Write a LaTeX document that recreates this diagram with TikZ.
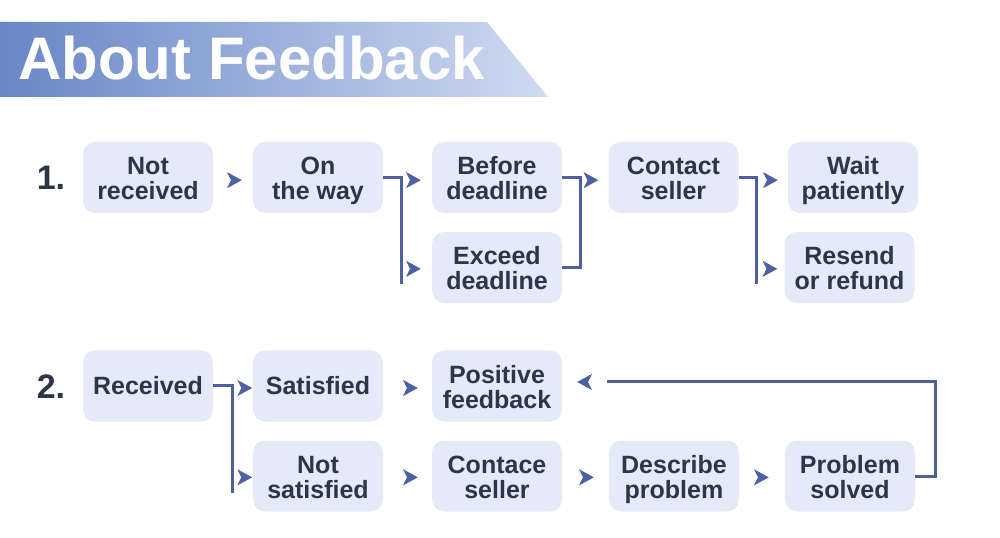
\documentclass[tikz,border=0pt]{standalone}
\usepackage{fontspec}
\setmainfont{Liberation Sans}
\usetikzlibrary{arrows.meta,calc}
\definecolor{boxfill}{RGB}{228,234,248}
\definecolor{txt}{RGB}{44,54,72}
\definecolor{conn}{RGB}{76,96,162}
\definecolor{gl}{RGB}{104,134,198}
\definecolor{gr}{RGB}{208,218,241}
\begin{document}
\begin{tikzpicture}[x=0.75pt,y=-0.75pt,
 box/.style={fill=boxfill, rounded corners=9pt, minimum width=97.5pt, minimum height=53.25pt, inner sep=0pt, align=center, text=txt, font=\fontsize{18.75}{18.75}\selectfont\bfseries,
   text height=37.7pt, text depth=4pt},
 boxone/.style={box, text height=16pt},
 linkline/.style={draw=conn, line width=2.25pt},
 headonly/.style={tips, color=conn, -{Stealth[length=11pt,width=12pt,inset=3pt]}},
 num/.style={text=txt, font=\fontsize{25.5}{25.5}\selectfont\bfseries, inner sep=0pt}
]
\useasboundingbox (0,0) rectangle (1000,538);
% title banner
\shade[left color=gl, right color=gr] (0,22) -- (487,22) -- (548,97) -- (0,97) -- cycle;
\node[anchor=base west, inner sep=0pt, text=white, font=\fontsize{45}{45}\selectfont\bfseries] (title) at (18,80) {About Feedback};

% numbers
\node[num] (n1) at (51,178) {1.};
\node[num] (n2) at (51,387) {2.};

% row 1
\node[box] (nr)  at (148,177.5)   {Not\\received};
\node[box] (otw) at (318,177.5)   {On\\the way};
\node[box] (bd)  at (497,177.5)   {Before\\deadline};
\node[box] (ed)  at (497,267.5)   {Exceed\\deadline};
\node[box] (cs)  at (673.5,177.5) {Contact\\seller};
\node[box] (wp)  at (853,177.5)   {Wait\\patiently};
\node[box] (rr)  at (849.5,267.5) {Resend\\or refund};

% row 2
\node[boxone] (rec) at (148,386) {Received};
\node[boxone] (sat) at (318,386) {Satisfied};
\node[box] (ns)  at (318,476) {Not\\satisfied};
\node[box] (pf)  at (497,386) {Positive\\feedback};
\node[box] (cs2) at (497,476) {Contace\\seller};
\node[box] (dp)  at (674,476) {Describe\\problem};
\node[box] (ps)  at (850,476) {Problem\\solved};

% connectors row 1
\path[headonly, shorten >=8.25pt] ([yshift=-2pt]nr.east) -- ([yshift=-2pt]otw.west);
\draw[linkline] (otw.east) -| ++(18,107);
\path[headonly, shorten >=8.25pt] ([yshift=-2pt]otw.east) -- ([yshift=-2pt]bd.west);
\path[headonly, shorten >=8.25pt] ([yshift=-1pt]otw.east |- ed.west) -- ([yshift=-1pt]ed.west);
\draw[linkline] (bd.east) -- ++(18,0) |- (ed.east);
\path[headonly, shorten >=7.5pt] ([yshift=-2pt]bd.east) -- ([yshift=-2pt]cs.west);
\draw[linkline] (cs.east) -| ++(18,107);
\path[headonly, shorten >=7.5pt] ([yshift=-2pt]cs.east) -- ([yshift=-2pt]wp.west);
\path[headonly, shorten >=5.25pt] ([yshift=-1pt]cs.east |- rr.west) -- ([yshift=-1pt]rr.west);

% connectors row 2
\draw[linkline] (rec.east) -| ++(19,107);
\path[headonly, shorten >=0.5pt] ([yshift=-1.5pt]rec.east) -- ([yshift=-1.5pt]sat.west);
\path[headonly, shorten >=0.5pt] ([yshift=-1pt]rec.east |- ns.west) -- ([yshift=-1pt]ns.west);
\path[headonly, shorten >=10.5pt] ([yshift=-1.5pt]sat.east) -- ([yshift=-1.5pt]pf.west);
\path[headonly, shorten >=10.5pt] ([yshift=-1pt]ns.east) -- ([yshift=-1pt]cs2.west);
\path[headonly, shorten >=11.25pt] ([yshift=-1pt]cs2.east) -- ([yshift=-1pt]dp.west);
\path[headonly, shorten >=12pt] ([yshift=-1pt]dp.east) -- ([yshift=-1pt]ps.west);
\coordinate (ret) at ($(pf.east)+(45,-4)$);
\draw[linkline] (ps.east) -- ++(20,0) |- (ret);
\path[headonly, shorten >=11.25pt] (ret) -- (pf.east |- ret);
\end{tikzpicture}
\end{document}
